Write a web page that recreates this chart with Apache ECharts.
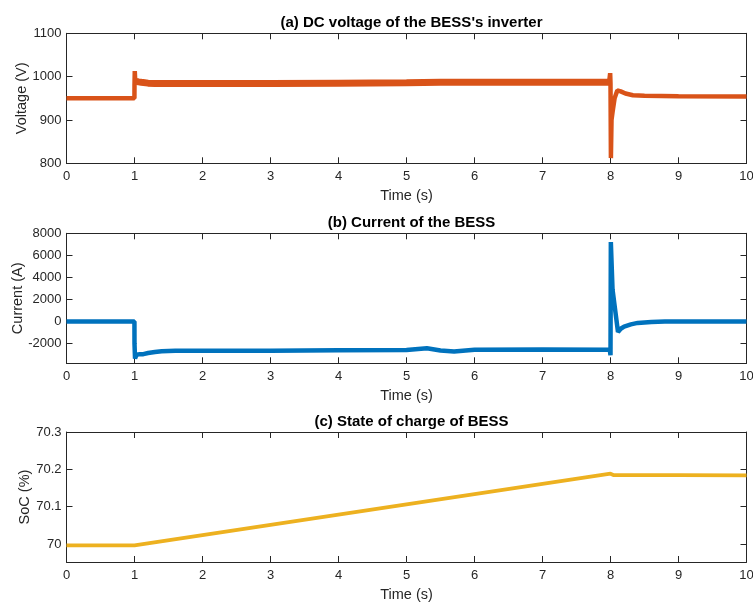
<!DOCTYPE html>
<html>
<head>
<meta charset="utf-8">
<script src="https://cdn.jsdelivr.net/npm/echarts@6/dist/echarts.min.js"></script>
<style>
html,body{margin:0;padding:0;background:#fff;}
#chart{width:753px;height:603px;}
</style>
</head>
<body>
<div id="chart"></div>
<script>
// ---- data ----
const timeTicks = [0,1,2,3,4,5,6,7,8,9,10];

const timeV = [0, 0.999, 1.0, 1.004, 1.01, 1.03, 1.06, 1.1, 1.2, 1.3, 1.5, 2, 3, 4, 5, 5.5, 6, 7, 7.98, 7.995, 8.0, 8.006, 8.015, 8.03, 8.06, 8.1, 8.15, 8.22, 8.33, 8.5, 9, 10];
const voltage = [950, 950, 980, 1013, 992, 989, 988, 987, 985, 984, 984, 984, 984, 985, 986, 987, 987, 987, 987, 1008, 985, 812, 900, 918, 950, 968, 966, 961, 957, 956, 955, 954];

const timeI = [0, 0.999, 1.0, 1.008, 1.03, 1.08, 1.13, 1.2, 1.3, 1.4, 1.6, 2, 3, 4, 5, 5.3, 5.5, 5.7, 6, 7, 7.99, 8.0, 8.005, 8.03, 8.11, 8.15, 8.2, 8.3, 8.4, 8.6, 8.8, 10];
const current = [0, 0, -2000, -3350, -3000, -2950, -2950, -2850, -2750, -2680, -2650, -2650, -2650, -2600, -2580, -2420, -2620, -2700, -2560, -2520, -2560, -3050, 7200, 2900, -950, -650, -450, -250, -120, -30, 0, 0];

const timeS = [0, 1, 8, 8.05, 9, 10];
const soc = [69.9965, 69.9965, 70.1885, 70.1845, 70.1845, 70.184];

const voltTicks = [800, 900, 1000, 1100];
const currTicks = [-2000, 0, 2000, 4000, 6000, 8000];
const socTicks = [70, 70.1, 70.2, 70.3];

const titles = ["(a) DC voltage of the BESS's inverter", "(b) Current of the BESS", "(c) State of charge of BESS"];
const yNames = ["Voltage (V)", "Current (A)", "SoC (%)"];
const xName = "Time (s)";

// ---- chart ----
const FONT = '"Liberation Sans", Arial, Helvetica, sans-serif';
const AX = '#262626';
const chart = echarts.init(document.getElementById('chart'), null, {renderer: 'canvas'});

const gridTops = [33.3, 233.3, 432];
const gridH = 130;
const yRanges = [[800, 1100], [-3780, 8000], [69.952, 70.3]];
const yTickLists = [voltTicks, currTicks, socTicks];
const yNameGaps = [37.5, 41.5, 34.5];
const colors = ['#D95319', '#0072BD', '#EDB120'];

function zip(t, v) { return t.map((x, i) => [x, v[i]]); }

const grids = [], xAxes = [], yAxes = [], series = [], titleArr = [];
for (let g = 0; g < 3; g++) {
  grids.push({left: 66.5, right: 6.5, top: gridTops[g], height: gridH, containLabel: false, outerBoundsMode: 'none'});
  titleArr.push({
    text: titles[g], left: 406.5, top: gridTops[g] - 23, textAlign: 'center',
    textStyle: {fontFamily: FONT, fontSize: 15, fontWeight: 'bold', color: '#000'}
  });
  const xBase = {
    type: 'value', gridIndex: g, min: 0, max: 10, interval: 1,
    axisLine: {show: true, onZero: false, lineStyle: {color: AX, width: 1}},
    axisTick: {show: true, inside: true, length: 6, lineStyle: {color: AX}},
    splitLine: {show: false}
  };
  xAxes.push(Object.assign({}, xBase, {
    position: 'bottom', name: xName, nameLocation: 'middle', nameGap: 25,
    nameMoveOverlap: false,
    nameTextStyle: {fontFamily: FONT, fontSize: 14.5, color: AX},
    axisLabel: {show: true, margin: 7, fontFamily: FONT, fontSize: 13, color: AX}
  }));
  xAxes.push(Object.assign({}, xBase, {position: 'top', axisLabel: {show: false}}));

  const ticks = yTickLists[g];
  const yBase = {
    type: 'value', gridIndex: g, min: yRanges[g][0], max: yRanges[g][1],
    axisLine: {show: true, onZero: false, lineStyle: {color: AX, width: 1}},
    axisTick: {show: true, inside: true, length: 6, customValues: ticks, lineStyle: {color: AX}},
    splitLine: {show: false}
  };
  yAxes.push(Object.assign({}, yBase, {
    position: 'left', name: yNames[g], nameLocation: 'middle', nameGap: yNameGaps[g],
    nameMoveOverlap: false,
    nameTextStyle: {fontFamily: FONT, fontSize: 14.5, color: AX},
    axisLabel: {show: true, margin: 5, fontFamily: FONT, fontSize: 13, color: AX,
      customValues: ticks,
      formatter: v => String(Math.round(v * 1000) / 1000)}
  }));
  yAxes.push(Object.assign({}, yBase, {position: 'right', axisLabel: {show: false}}));
}

const lineCommon = {type: 'line', showSymbol: false, symbol: 'none', animation: false, silent: true};
series.push(Object.assign({}, lineCommon, {
  xAxisIndex: 0, yAxisIndex: 0, data: zip(timeV, voltage),
  lineStyle: {color: colors[0], width: 4.5}, z: 2
}));
// noisy band between the two events (same data, thicker stroke)
series.push(Object.assign({}, lineCommon, {
  xAxisIndex: 0, yAxisIndex: 0,
  data: zip(timeV, voltage).filter(p => p[0] >= 1.03 && p[0] <= 7.98),
  lineStyle: {color: colors[0], width: 7}, z: 3
}));
series.push(Object.assign({}, lineCommon, {
  xAxisIndex: 2, yAxisIndex: 2, data: zip(timeI, current),
  lineStyle: {color: colors[1], width: 4.5}
}));
series.push(Object.assign({}, lineCommon, {
  xAxisIndex: 4, yAxisIndex: 4, data: zip(timeS, soc),
  lineStyle: {color: colors[2], width: 3.8}
}));

chart.setOption({
  backgroundColor: '#fff',
  animation: false,
  title: titleArr,
  grid: grids,
  xAxis: xAxes,
  yAxis: yAxes,
  series: series
});
</script>
</body>
</html>
